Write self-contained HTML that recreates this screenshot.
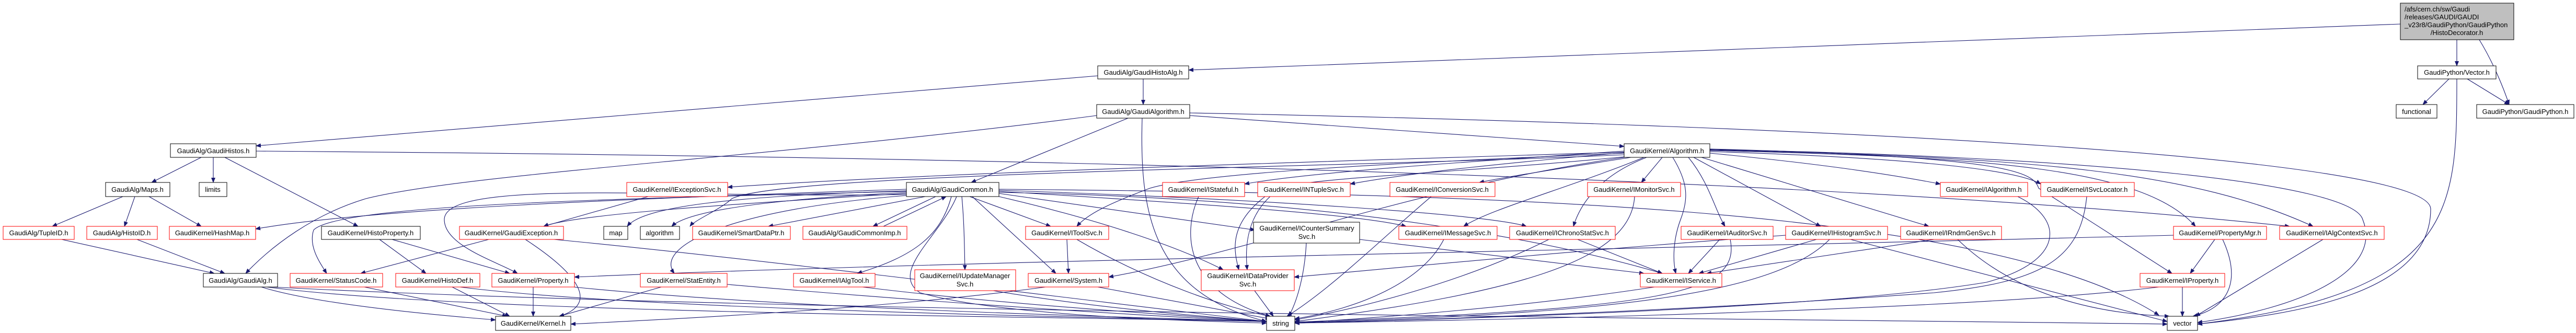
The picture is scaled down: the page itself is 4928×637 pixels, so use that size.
<!DOCTYPE html>
<html><head><meta charset="utf-8"><style>
html,body{margin:0;padding:0;background:#fff;}
svg{display:block;}
text{font-family:"Liberation Sans",sans-serif;font-size:13px;fill:#000;}
.e{fill:none;stroke:#191970;stroke-width:1.1;marker-end:url(#a);}
.n{fill:#fff;stroke:#000;stroke-width:1;}
.r{fill:#fff;stroke:#ff0000;stroke-width:1;}
</style></head><body>
<svg width="4928" height="637" viewBox="0 0 4928 637" xmlns="http://www.w3.org/2000/svg">
<defs><marker id="a" markerWidth="10" markerHeight="8" refX="9" refY="4" orient="auto" markerUnits="userSpaceOnUse"><path d="M0,0 L10,4 L0,8 z" fill="#191970"/></marker></defs>
<g>
<path class="e" d="M4592,46 L2274,134"/>
<path class="e" d="M4700,76 L4700,126"/>
<path class="e" d="M4743,76 C4770,120 4790,170 4800,200"/>
<path class="e" d="M4685,151 L4635,200"/>
<path class="e" d="M4720,151 L4800,200"/>
<path class="e" d="M4700,151 C4700,400 4700,560 4204,620"/>
<path class="e" d="M2187,151 L2187,200"/>
<path class="e" d="M2100,145 L490,279"/>
<path class="e" d="M2158,226 L1858,349"/>
<path class="e" d="M2185,226 C2180,400 2200,560 2423,615"/>
<path class="e" d="M2276,221 L3107,280"/>
<path class="e" d="M2276,216 C3500,240 4650,300 4650,400 C4650,560 4400,600 4204,620"/>
<path class="e" d="M2098,221 C1500,300 900,330 700,380 C600,410 520,470 470,523"/>
<path class="e" d="M385,301 L290,349"/>
<path class="e" d="M408,301 L408,349"/>
<path class="e" d="M430,301 L685,433"/>
<path class="e" d="M490,289 C2000,300 3500,340 4380,433"/>
<path class="e" d="M235,376 L100,433"/>
<path class="e" d="M258,376 L238,433"/>
<path class="e" d="M285,376 L385,433"/>
<path class="e" d="M118,458 L410,523"/>
<path class="e" d="M262,458 L430,523"/>
<path class="e" d="M500,549 C600,580 800,600 948,612"/>
<path class="e" d="M510,549 C900,600 2000,605 2423,615"/>
<path class="e" d="M520,549 C1500,600 3500,610 4146,620"/>
<path class="e" d="M726,458 L815,523"/>
<path class="e" d="M750,458 L975,523"/>
<path class="e" d="M935,458 L690,523"/>
<path class="e" d="M1005,458 C1100,520 1150,580 1070,605"/>
<path class="e" d="M1060,458 C1500,500 2200,590 2423,615"/>
<path class="e" d="M697,549 L970,605"/>
<path class="e" d="M865,549 L975,605"/>
<path class="e" d="M880,549 C1200,590 2000,605 2423,615"/>
<path class="e" d="M1020,549 L1020,605"/>
<path class="e" d="M1097,549 C1500,590 2100,605 2423,615"/>
<path class="e" d="M1265,549 L1070,605"/>
<path class="e" d="M1391,544 C1800,580 2200,605 2423,615"/>
<path class="e" d="M1240,376 L1040,433"/>
<path class="e" d="M3107,291 C2500,310 1800,330 1392,358"/>
<path class="e" d="M1734,365 C1400,375 1230,395 1200,433"/>
<path class="e" d="M1734,368 C1500,380 1320,400 1285,433"/>
<path class="e" d="M1770,376 L1470,433"/>
<path class="e" d="M1790,376 L1670,433"/>
<path class="e" d="M1690,433 L1810,376"/>
<path class="e" d="M1734,362 C1200,380 700,400 489,438"/>
<path class="e" d="M1734,370 C1400,390 1100,410 1040,433"/>
<path class="e" d="M1734,366 C1200,380 650,390 600,440 C590,470 610,500 625,523"/>
<path class="e" d="M1734,372 C1300,380 850,340 850,420 C850,470 950,500 990,523"/>
<path class="e" d="M1734,374 C1400,400 1250,470 1290,523"/>
<path class="e" d="M1820,376 C1800,450 1750,490 1640,523"/>
<path class="e" d="M1840,376 C1845,430 1845,480 1846,516"/>
<path class="e" d="M1860,376 L2020,523"/>
<path class="e" d="M1855,376 L2010,433"/>
<path class="e" d="M1911,376 C2100,420 2250,470 2340,516"/>
<path class="e" d="M1911,370 L2401,440"/>
<path class="e" d="M1911,366 C2300,390 2600,410 2690,433"/>
<path class="e" d="M1911,364 C2400,380 2850,410 2920,433"/>
<path class="e" d="M1830,376 C1800,450 1700,520 1760,560 C1900,600 2200,612 2423,618"/>
<path class="e" d="M1911,368 C2600,380 3000,470 3180,523"/>
<path class="e" d="M1911,362 C2800,370 3800,390 4130,603"/>
<path class="e" d="M2041,458 L2044,523"/>
<path class="e" d="M2060,458 C2200,540 2350,590 2430,605"/>
<path class="e" d="M2100,549 L2430,610"/>
<path class="e" d="M2000,549 C1700,590 1300,610 1092,620"/>
<path class="e" d="M1650,549 C1900,580 2200,600 2423,615"/>
<path class="e" d="M1900,556 C2100,590 2300,605 2423,615"/>
<path class="e" d="M2400,556 L2436,605"/>
<path class="e" d="M2293,376 C2260,450 2270,560 2430,605"/>
<path class="e" d="M2420,376 C2350,430 2360,480 2370,516"/>
<path class="e" d="M2738,376 C2650,450 2550,550 2462,605"/>
<path class="e" d="M3127,376 C3120,500 2900,560 2477,615"/>
<path class="e" d="M2499,465 C2495,540 2475,590 2465,605"/>
<path class="e" d="M2601,458 L3145,523"/>
<path class="e" d="M2762,458 C2720,540 2600,590 2477,610"/>
<path class="e" d="M2963,458 C2800,540 2600,590 2477,612"/>
<path class="e" d="M3018,458 L3180,523"/>
<path class="e" d="M3290,458 L3230,523"/>
<path class="e" d="M3310,458 C3330,560 3200,590 2477,616"/>
<path class="e" d="M3475,458 L3250,523"/>
<path class="e" d="M3500,458 C3400,560 3100,600 2477,617"/>
<path class="e" d="M3540,458 L4146,615"/>
<path class="e" d="M3700,458 L3265,523"/>
<path class="e" d="M3745,458 C3850,560 4000,600 4150,605"/>
<path class="e" d="M3165,549 C2900,590 2600,610 2477,618"/>
<path class="e" d="M4237,458 L4190,523"/>
<path class="e" d="M4252,458 C4290,540 4260,590 4195,605"/>
<path class="e" d="M4158,450 C3000,480 1800,500 1099,530"/>
<path class="e" d="M3416,450 C3000,480 2700,510 2476,530"/>
<path class="e" d="M4175,549 L4175,605"/>
<path class="e" d="M4130,549 C3800,590 3000,610 2477,618"/>
<path class="e" d="M4444,458 L4200,605"/>
<path class="e" d="M3860,376 C3950,420 3950,500 3800,540 C3500,590 2800,610 2477,618"/>
<path class="e" d="M3992,376 C3980,500 3900,540 3700,560 C3300,590 2800,610 2477,618"/>
<path class="e" d="M3107,292 C2900,310 2700,330 2583,352"/>
<path class="e" d="M3120,301 C3000,320 2900,335 2830,349"/>
<path class="e" d="M3180,301 L3140,349"/>
<path class="e" d="M3145,301 C3000,360 2850,400 2800,433"/>
<path class="e" d="M3150,301 C3050,340 3020,400 3010,433"/>
<path class="e" d="M3230,301 C3270,350 3280,400 3300,433"/>
<path class="e" d="M3240,301 L3483,433"/>
<path class="e" d="M3255,301 L3690,433"/>
<path class="e" d="M3200,301 C3230,350 3230,380 3215,420 C3200,460 3200,500 3206,523"/>
<path class="e" d="M3271,293 C3450,310 3600,330 3712,352"/>
<path class="e" d="M3271,290 C3600,300 3850,320 3904,352"/>
<path class="e" d="M3271,288 C3800,300 4100,320 4200,433"/>
<path class="e" d="M3271,287 C3900,300 4200,330 4425,433"/>
<path class="e" d="M3271,285 C3850,300 3890,330 3900,360 L4155,523"/>
<path class="e" d="M3271,286 C4000,300 4500,350 4520,420 C4560,520 4400,590 4204,617"/>
<path class="e" d="M3107,289 C2800,310 2500,330 2381,352"/>
<path class="e" d="M3107,293 C2700,310 2300,330 2200,360 C2120,390 2080,410 2060,433"/>
<path class="e" d="M3107,300 C2800,330 2500,340 2450,360 C2390,400 2380,460 2386,516"/>
<path class="e" d="M3107,301 C2700,360 2400,480 2121,530"/>
<path class="e" d="M3107,296 C2600,320 1500,330 1400,380 C1380,400 1330,420 1320,433"/>
</g>
<g>
<rect x="4592" y="6" width="217" height="70" fill="#bfbfbf" stroke="#000"/>
<text x="4600" y="22">/afs/cern.ch/sw/Gaudi</text>
<text x="4600" y="37">/releases/GAUDI/GAUDI</text>
<text x="4600" y="52">_v23r8/GaudiPython/GaudiPython</text>
<text x="4700" y="67" text-anchor="middle">/HistoDecorator.h</text>

<rect class="n" x="4625" y="126" width="150" height="25"/><text x="4700" y="143" text-anchor="middle">GaudiPython/Vector.h</text>
<rect class="n" x="2100" y="126" width="174" height="25"/><text x="2187" y="143" text-anchor="middle">GaudiAlg/GaudiHistoAlg.h</text>
<rect class="n" x="2098" y="200" width="178" height="26"/><text x="2187" y="218" text-anchor="middle">GaudiAlg/GaudiAlgorithm.h</text>
<rect class="n" x="4584" y="200" width="78" height="26"/><text x="4623" y="218" text-anchor="middle">functional</text>
<rect class="n" x="4738" y="200" width="186" height="26"/><text x="4831" y="218" text-anchor="middle">GaudiPython/GaudiPython.h</text>
<rect class="n" x="326" y="275" width="164" height="26"/><text x="408" y="293" text-anchor="middle">GaudiAlg/GaudiHistos.h</text>
<rect class="n" x="3107" y="275" width="164" height="26"/><text x="3189" y="293" text-anchor="middle">GaudiKernel/Algorithm.h</text>

<rect class="n" x="202" y="349" width="123" height="27"/><text x="263" y="367" text-anchor="middle">GaudiAlg/Maps.h</text>
<rect class="n" x="381" y="349" width="53" height="27"/><text x="407" y="367" text-anchor="middle">limits</text>
<rect class="r" x="1199" y="349" width="193" height="27"/><text x="1295" y="367" text-anchor="middle">GaudiKernel/IExceptionSvc.h</text>
<rect class="n" x="1734" y="349" width="177" height="27"/><text x="1822" y="367" text-anchor="middle">GaudiAlg/GaudiCommon.h</text>
<rect class="r" x="2224" y="349" width="157" height="27"/><text x="2302" y="367" text-anchor="middle">GaudiKernel/IStateful.h</text>
<rect class="r" x="2406" y="349" width="177" height="27"/><text x="2494" y="367" text-anchor="middle">GaudiKernel/INTupleSvc.h</text>
<rect class="r" x="2659" y="349" width="201" height="27"/><text x="2759" y="367" text-anchor="middle">GaudiKernel/IConversionSvc.h</text>
<rect class="r" x="3037" y="349" width="178" height="27"/><text x="3126" y="367" text-anchor="middle">GaudiKernel/IMonitorSvc.h</text>
<rect class="r" x="3712" y="349" width="167" height="27"/><text x="3795" y="367" text-anchor="middle">GaudiKernel/IAlgorithm.h</text>
<rect class="r" x="3904" y="349" width="179" height="27"/><text x="3993" y="367" text-anchor="middle">GaudiKernel/ISvcLocator.h</text>

<rect class="r" x="6" y="433" width="136" height="25"/><text x="74" y="450" text-anchor="middle">GaudiAlg/TupleID.h</text>
<rect class="r" x="166" y="433" width="135" height="25"/><text x="233" y="450" text-anchor="middle">GaudiAlg/HistoID.h</text>
<rect class="r" x="324" y="433" width="165" height="25"/><text x="406" y="450" text-anchor="middle">GaudiKernel/HashMap.h</text>
<rect class="n" x="615" y="433" width="189" height="25"/><text x="709" y="450" text-anchor="middle">GaudiKernel/HistoProperty.h</text>
<rect class="r" x="879" y="433" width="199" height="25"/><text x="978" y="450" text-anchor="middle">GaudiKernel/GaudiException.h</text>
<rect class="n" x="1155" y="433" width="46" height="25"/><text x="1178" y="450" text-anchor="middle">map</text>
<rect class="n" x="1225" y="433" width="75" height="25"/><text x="1262" y="450" text-anchor="middle">algorithm</text>
<rect class="r" x="1325" y="433" width="187" height="25"/><text x="1418" y="450" text-anchor="middle">GaudiKernel/SmartDataPtr.h</text>
<rect class="r" x="1536" y="433" width="199" height="25"/><text x="1635" y="450" text-anchor="middle">GaudiAlg/GaudiCommonImp.h</text>
<rect class="r" x="1962" y="433" width="159" height="25"/><text x="2041" y="450" text-anchor="middle">GaudiKernel/IToolSvc.h</text>
<rect class="n" x="2398" y="425" width="203" height="40"/><text x="2500" y="441" text-anchor="middle">GaudiKernel/ICounterSummary</text><text x="2500" y="457" text-anchor="middle">Svc.h</text>
<rect class="r" x="2676" y="433" width="188" height="25"/><text x="2770" y="450" text-anchor="middle">GaudiKernel/IMessageSvc.h</text>
<rect class="r" x="2888" y="433" width="202" height="25"/><text x="2989" y="450" text-anchor="middle">GaudiKernel/IChronoStatSvc.h</text>
<rect class="r" x="3216" y="433" width="176" height="25"/><text x="3304" y="450" text-anchor="middle">GaudiKernel/IAuditorSvc.h</text>
<rect class="r" x="3416" y="433" width="195" height="25"/><text x="3513" y="450" text-anchor="middle">GaudiKernel/IHistogramSvc.h</text>
<rect class="r" x="3636" y="433" width="193" height="25"/><text x="3732" y="450" text-anchor="middle">GaudiKernel/IRndmGenSvc.h</text>
<rect class="r" x="4158" y="433" width="178" height="25"/><text x="4247" y="450" text-anchor="middle">GaudiKernel/PropertyMgr.h</text>
<rect class="r" x="4361" y="433" width="200" height="25"/><text x="4461" y="450" text-anchor="middle">GaudiKernel/IAlgContextSvc.h</text>

<rect class="n" x="389" y="523" width="142" height="26"/><text x="460" y="541" text-anchor="middle">GaudiAlg/GaudiAlg.h</text>
<rect class="r" x="555" y="523" width="177" height="26"/><text x="643" y="541" text-anchor="middle">GaudiKernel/StatusCode.h</text>
<rect class="r" x="757" y="523" width="161" height="26"/><text x="837" y="541" text-anchor="middle">GaudiKernel/HistoDef.h</text>
<rect class="r" x="941" y="523" width="158" height="26"/><text x="1020" y="541" text-anchor="middle">GaudiKernel/Property.h</text>
<rect class="r" x="1225" y="523" width="166" height="26"/><text x="1308" y="541" text-anchor="middle">GaudiKernel/StatEntity.h</text>
<rect class="r" x="1518" y="523" width="156" height="26"/><text x="1596" y="541" text-anchor="middle">GaudiKernel/IAlgTool.h</text>
<rect class="r" x="1750" y="516" width="193" height="40"/><text x="1846" y="532" text-anchor="middle">GaudiKernel/IUpdateManager</text><text x="1846" y="548" text-anchor="middle">Svc.h</text>
<rect class="r" x="1967" y="523" width="154" height="26"/><text x="2044" y="541" text-anchor="middle">GaudiKernel/System.h</text>
<rect class="r" x="2298" y="516" width="178" height="40"/><text x="2387" y="532" text-anchor="middle">GaudiKernel/IDataProvider</text><text x="2387" y="548" text-anchor="middle">Svc.h</text>
<rect class="r" x="3138" y="523" width="156" height="26"/><text x="3216" y="541" text-anchor="middle">GaudiKernel/IService.h</text>
<rect class="r" x="4094" y="523" width="162" height="26"/><text x="4175" y="541" text-anchor="middle">GaudiKernel/IProperty.h</text>

<rect class="n" x="948" y="605" width="144" height="27"/><text x="1020" y="623" text-anchor="middle">GaudiKernel/Kernel.h</text>
<rect class="n" x="2423" y="605" width="54" height="27"/><text x="2450" y="623" text-anchor="middle">string</text>
<rect class="n" x="4146" y="605" width="58" height="27"/><text x="4175" y="623" text-anchor="middle">vector</text>
</g>
</svg>
</body></html>
